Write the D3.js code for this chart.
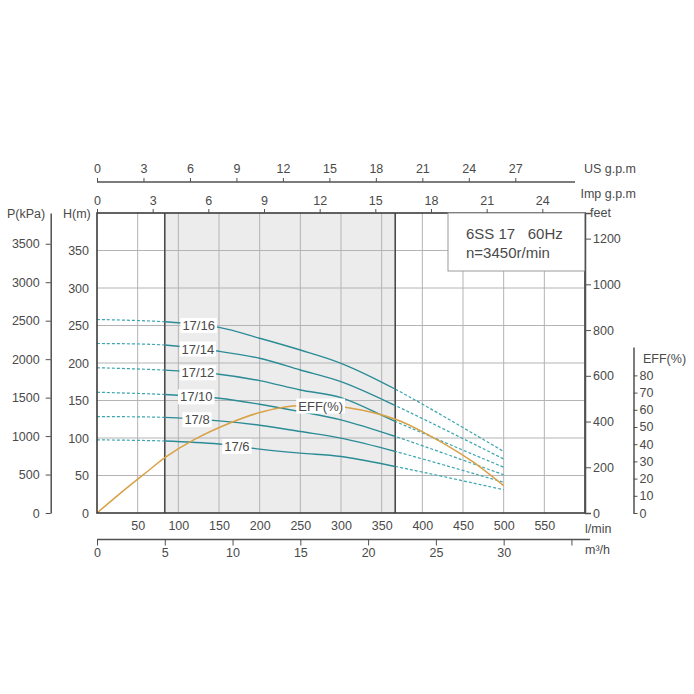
<!DOCTYPE html>
<html>
<head>
<meta charset="utf-8">
<script src="https://cdn.jsdelivr.net/npm/d3@7"></script>
<style>
body { margin: 0; background: #fff; }
text { font-family: "Liberation Sans", Arial, sans-serif; fill: #4a4a4a; }
</style>
</head>
<body>
<div id="chart"></div>
<script>
// flow points (l/min) where the head curves were read
const flowLpm = [0, 83, 150, 200, 250, 300, 367, 500];
const models = ["17/16", "17/14", "17/12", "17/10", "17/8", "17/6"];
const head1716 = [258, 255, 247.5, 233, 217.3, 199.6, 165, 82];
const head1714 = [226, 224, 215.6, 206.3, 190.7, 175.1, 143.2, 72];
const head1712 = [193.7, 190.5, 185, 176.5, 164, 153.8, 122, 61];
const head1710 = [161, 158, 153, 145, 135.2, 124.2, 102, 51];
const head178 = [128.5, 127.5, 122.8, 117, 108.6, 99.8, 82, 41];
const head176 = [97.5, 96, 92, 85.2, 79.8, 75.3, 62, 31];
const heads = [head1716, head1714, head1712, head1710, head178, head176];
const labelFlow = [125, 124, 124, 122, 123, 172];

// efficiency curve
const effFlow = [0, 30, 65, 83, 120, 165, 200, 235, 262, 307, 367, 410, 461, 500];
const effValues = [0, 12, 25.3, 32.1, 42.8, 52.6, 58.4, 61.9, 62.7, 61.3, 54.5, 44.7, 30.1, 15.9];
const effLabelFlow = 275;

// recommended range, m3/h
const rangeM3h = [5, 22];

// tick labels
const lpmTicks = [50, 100, 150, 200, 250, 300, 350, 400, 450, 500, 550];
const m3hTicks = [0, 5, 10, 15, 20, 25, 30, 35];
const usTicks = [0, 3, 6, 9, 12, 15, 18, 21, 24, 27];
const impTicks = [0, 3, 6, 9, 12, 15, 18, 21, 24];
const headTicks = [0, 50, 100, 150, 200, 250, 300, 350];
const kpaTicks = [0, 500, 1000, 1500, 2000, 2500, 3000, 3500];
const feetTicks = [0, 200, 400, 600, 800, 1000, 1200];
const effTicks = [0, 10, 20, 30, 40, 50, 60, 70, 80];

const W = 694, H = 694;
const pL = 97, pR = 585, pT = 213, pB = 513;
const axisColor = "#505050";
const solidColor = "#2b8c96";
const dashColor = "#3aa5b0";
const effColor = "#d9a044";
const fmt = d3.format("d");

const svg = d3.select("#chart").append("svg").attr("width", W).attr("height", H);

const xScale = d3.scaleLinear().domain([0, 600]).range([pL, pR]);
const m3hScale = d3.scaleLinear().domain([0, 36]).range([pL, pR]);
const usScale = d3.scaleLinear().domain([0, 31.5]).range([pL, pR]);
const impScale = d3.scaleLinear().domain([0, 26.3]).range([pL, pR]);
const hScale = d3.scaleLinear().domain([0, 400]).range([pB, pT]);
const pScale = d3.scaleLinear().domain([0, 3900]).range([pB, pT]);
const feetScale = d3.scaleLinear().domain([0, 1312]).range([pB, pT]);
const effScale = d3.scaleLinear().domain([0, 96.5]).range([pB, 347]);

const x1 = xScale(rangeM3h[0] * 1000 / 60);
const x2 = xScale(rangeM3h[1] * 1000 / 60);

// shaded range
svg.append("rect")
  .attr("x", x1).attr("y", pT)
  .attr("width", x2 - x1).attr("height", pB - pT)
  .attr("fill", "#ececec");

// grid
svg.append("g").selectAll("line")
  .data(headTicks.filter(d => d > 0)).enter()
  .append("line")
  .attr("x1", pL).attr("x2", pR)
  .attr("y1", d => hScale(d)).attr("y2", d => hScale(d))
  .attr("stroke", "#b4b4b4").attr("stroke-width", 1);

svg.append("g").selectAll("line")
  .data(lpmTicks).enter()
  .append("line")
  .attr("x1", d => xScale(d)).attr("x2", d => xScale(d))
  .attr("y1", pT).attr("y2", pB)
  .attr("stroke", "#b4b4b4").attr("stroke-width", 1);

[x1, x2].forEach(xx => {
  svg.append("line")
    .attr("x1", xx).attr("x2", xx).attr("y1", pT).attr("y2", pB)
    .attr("stroke", "#4a4a4a").attr("stroke-width", 1.6);
});

// clip paths
const defs = svg.append("defs");
defs.append("clipPath").attr("id", "clipSolid")
  .append("rect").attr("x", x1).attr("y", pT - 5).attr("width", x2 - x1).attr("height", pB - pT + 10);
const clipDash = defs.append("clipPath").attr("id", "clipDash");
clipDash.append("rect").attr("x", pL).attr("y", pT - 5).attr("width", x1 - pL).attr("height", pB - pT + 10);
clipDash.append("rect").attr("x", x2).attr("y", pT - 5).attr("width", pR - x2).attr("height", pB - pT + 10);

const headLine = d3.line()
  .x(d => xScale(d[0]))
  .y(d => hScale(d[1]))
  .curve(d3.curveCatmullRom.alpha(0.5));

heads.forEach(hs => {
  const pts = flowLpm.map((q, i) => [q, hs[i]]);
  svg.append("path").datum(pts)
    .attr("d", headLine)
    .attr("fill", "none")
    .attr("stroke", dashColor)
    .attr("stroke-width", 1.2)
    .attr("stroke-dasharray", "3,2")
    .attr("clip-path", "url(#clipDash)");
  svg.append("path").datum(pts)
    .attr("d", headLine)
    .attr("fill", "none")
    .attr("stroke", solidColor)
    .attr("stroke-width", 1.4)
    .attr("clip-path", "url(#clipSolid)");
});

// efficiency curve
const effLine = d3.line()
  .x(d => xScale(d[0]))
  .y(d => effScale(d[1]))
  .curve(d3.curveCatmullRom.alpha(0.5));

svg.append("path")
  .datum(effFlow.map((q, i) => [q, effValues[i]]))
  .attr("d", effLine)
  .attr("fill", "none")
  .attr("stroke", effColor)
  .attr("stroke-width", 1.5);

// border
svg.append("rect")
  .attr("x", pL).attr("y", pT)
  .attr("width", pR - pL).attr("height", pB - pT)
  .attr("fill", "none").attr("stroke", "#3c3c3c").attr("stroke-width", 1.6);

// labels on curves
function interp(xs, ys, q) {
  for (let i = 0; i < xs.length - 1; i++) {
    if (q >= xs[i] && q <= xs[i + 1]) {
      const t = (q - xs[i]) / (xs[i + 1] - xs[i]);
      return ys[i] + t * (ys[i + 1] - ys[i]);
    }
  }
  return ys[ys.length - 1];
}

function tag(txt, cx, cy) {
  const g = svg.append("g");
  const t = g.append("text")
    .attr("x", cx).attr("y", cy)
    .attr("text-anchor", "middle")
    .attr("dy", "0.36em")
    .attr("font-size", 13)
    .text(txt);
  const b = t.node().getBBox();
  g.insert("rect", "text")
    .attr("x", b.x - 2).attr("y", b.y)
    .attr("width", b.width + 4).attr("height", b.height)
    .attr("fill", "#fff");
}

models.forEach((m, i) => {
  tag(m, xScale(labelFlow[i]), hScale(interp(flowLpm, heads[i], labelFlow[i])));
});
tag("EFF(%)", xScale(effLabelFlow), effScale(interp(effFlow, effValues, effLabelFlow)));

// legend box
svg.append("rect")
  .attr("x", 448).attr("y", pT)
  .attr("width", pR - 448).attr("height", 58)
  .attr("fill", "#fff").attr("stroke", "#9a9a9a").attr("stroke-width", 1);
svg.append("text").attr("x", 466).attr("y", 239)
  .attr("font-size", 15).style("white-space", "pre")
  .text("6SS 17   60Hz");
svg.append("text").attr("x", 466).attr("y", 258)
  .attr("font-size", 15)
  .text("n=3450r/min");

// axes
function styleAxis(g) {
  g.attr("font-family", null).attr("font-size", null);
  g.selectAll(".tick line").attr("stroke", axisColor);
  g.selectAll(".domain").attr("stroke", axisColor).attr("stroke-width", 1.5);
  g.selectAll("text").attr("font-size", 12.5).attr("fill", "#4a4a4a");
}

// P(kPa)
svg.append("g")
  .attr("transform", "translate(50.7,0)")
  .call(d3.axisLeft(pScale).tickValues(kpaTicks).tickFormat(fmt).tickSize(5).tickSizeOuter(0).tickPadding(6))
  .call(styleAxis);

// H(m)
svg.append("g")
  .attr("transform", `translate(${pL},0)`)
  .call(d3.axisLeft(hScale).tickValues(headTicks).tickFormat(fmt).tickSize(0).tickPadding(8))
  .call(styleAxis)
  .call(g => g.select(".domain").remove());

// feet
svg.append("g")
  .attr("transform", `translate(${pR},0)`)
  .call(d3.axisRight(feetScale).tickValues(feetTicks).tickFormat(fmt).tickSize(6).tickSizeOuter(6).tickPadding(2))
  .call(styleAxis);

// EFF
svg.append("g")
  .attr("transform", "translate(633.5,0)")
  .call(d3.axisRight(effScale).tickValues(effTicks).tickFormat(fmt).tickSize(4).tickSizeOuter(0).tickPadding(2))
  .call(styleAxis);

// l/min
svg.append("g")
  .attr("transform", `translate(0,${pB})`)
  .call(d3.axisBottom(xScale).tickValues(lpmTicks).tickFormat(fmt).tickSize(0).tickPadding(8))
  .call(styleAxis)
  .call(g => g.select(".domain").remove());

// m3/h
const m3hY = 539.5;
svg.append("line")
  .attr("x1", pL).attr("x2", 590).attr("y1", m3hY).attr("y2", m3hY)
  .attr("stroke", axisColor).attr("stroke-width", 1.5);
svg.append("g")
  .attr("transform", `translate(0,${m3hY})`)
  .call(d3.axisBottom(m3hScale).tickValues(m3hTicks).tickSize(6).tickPadding(3)
    .tickFormat(d => d <= 30 ? d : ""))
  .call(styleAxis)
  .call(g => g.select(".domain").remove());

// US g.p.m
const usY = 182;
svg.append("line")
  .attr("x1", pL).attr("x2", 575).attr("y1", usY).attr("y2", usY)
  .attr("stroke", axisColor).attr("stroke-width", 1.5);
svg.append("g")
  .attr("transform", `translate(0,${usY})`)
  .call(d3.axisTop(usScale).tickValues(usTicks).tickSize(4).tickPadding(5))
  .call(styleAxis)
  .call(g => g.select(".domain").remove());

// Imp g.p.m
svg.append("g")
  .attr("transform", `translate(0,${pT})`)
  .call(d3.axisTop(impScale).tickValues(impTicks).tickSize(4).tickPadding(4))
  .call(styleAxis)
  .call(g => g.select(".domain").remove());

// axis titles
const titles = [
  {t: "P(kPa)", x: 7, y: 218, a: "start"},
  {t: "H(m)", x: 63, y: 218, a: "start"},
  {t: "feet", x: 590, y: 217, a: "start"},
  {t: "US g.p.m", x: 636, y: 173, a: "end"},
  {t: "Imp g.p.m", x: 636, y: 198, a: "end"},
  {t: "l/min", x: 585, y: 533, a: "start"},
  {t: "m³/h", x: 585, y: 554, a: "start"},
  {t: "EFF(%)", x: 643, y: 363, a: "start"}
];
svg.append("g").selectAll("text")
  .data(titles).enter()
  .append("text")
  .attr("x", d => d.x).attr("y", d => d.y)
  .attr("text-anchor", d => d.a)
  .attr("font-size", 12.5)
  .text(d => d.t);
</script>
</body>
</html>
